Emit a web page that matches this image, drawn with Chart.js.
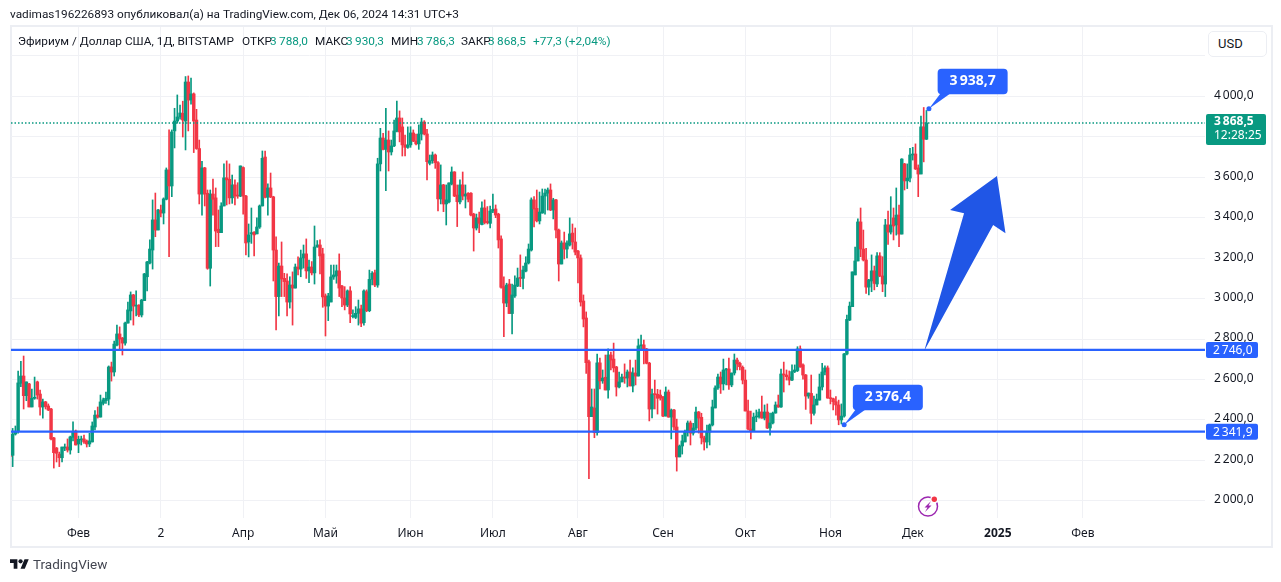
<!DOCTYPE html>
<html lang="ru">
<head>
<meta charset="utf-8">
<title>ETHUSD</title>
<script src="https://cdn.jsdelivr.net/npm/chart.js@4"></script>
<style>
  html, body { margin: 0; padding: 0; background: #fff; }
  body { width: 1281px; height: 582px; overflow: hidden; position: relative; font-family: Roboto, sans-serif; color: #131722; }
  #frame { position: absolute; left: 10px; top: 25px; width: 1259px; height: 519px; border: 2px solid #eceef3; }
  canvas { position: absolute; left: 0; top: 0; }
  .t { position: absolute; white-space: nowrap; font-size: 11.8px; line-height: 16px; }
  .g { color: #089981; }
  #usd { position: absolute; left: 1208px; top: 31px; width: 57px; height: 24px; border: 1.5px solid #eceef3; border-radius: 5px; background: #fff; font-size: 13px; line-height: 24px; text-indent: 9px; }
  #logo { position: absolute; left: 10px; top: 557px; }
</style>
</head>
<body>
<div id="frame"></div>
<canvas id="chart" width="1281" height="582"></canvas>
<div class="t" style="left:10px;top:6px">vadimas196226893 опубликовал(а) на TradingView.com, Дек 06, 2024 14:31 UTC+3</div>
<div class="t" style="left:18px;top:33px">Эфириум / Доллар США, 1Д, BITSTAMP</div>
<div class="t" style="left:242px;top:33px">ОТКР</div><div class="t g" style="left:270px;top:33px">3&#8201;788,0</div>
<div class="t" style="left:315px;top:33px">МАКС</div><div class="t g" style="left:346px;top:33px">3&#8201;930,3</div>
<div class="t" style="left:391px;top:33px">МИН</div><div class="t g" style="left:417px;top:33px">3&#8201;786,3</div>
<div class="t" style="left:461px;top:33px">ЗАКР</div><div class="t g" style="left:488px;top:33px">3&#8201;868,5</div>
<div class="t g" style="left:533px;top:33px">+77,3 (+2,04%)</div>
<div id="usd">USD</div>
<svg id="logo" width="19" height="15" viewBox="0 0 36 28"><path fill="#131722" d="M14 22H7V11H0V4h14v18zM28 22h-8l7.5-18h8L28 22z"/><circle fill="#131722" cx="20" cy="8" r="4"/></svg>
<div class="t" style="left:33px;top:556px;font-size:13.5px;color:#434651">TradingView</div>

<script>
// ETH/USD daily candles, 7 Jan - 6 Dec 2024, one row per month
var opens = [
  2241,2225,2330,2342,2581,2617,2520,2578,2464,2507,2588,2528,2464,2489,2469,2454,2311,2261,2231,2213,2261,2266,2251,2314,2345,
  2281,2301,2306,2296,2281,2291,2365,2424,2414,2482,2495,2503,2662,2637,2770,2825,2805,2780,2879,2939,3018,2963,2967,2919,2990,3108,3176,3240,3389,
  3339,3438,3423,3491,3636,3557,3829,3878,3898,3916,3878,4071,3982,4012,3883,3742,3517,3646,3521,3150,3517,3498,3343,3326,3458,3597,3590,3498,3562,3512,3507,
  3648,3507,3280,3320,3328,3320,3354,3458,3700,3501,3547,3503,3240,3010,3161,3100,3087,2983,3067,3052,3156,3146,3201,3221,3137,3156,3127,3255,3265,3221,
  3013,2963,2983,3107,3112,3137,3062,3003,2968,3038,2911,2907,2927,2949,2881,3034,2940,3095,3128,3067,3666,3794,3738,3784,3725,3755,3827,3893,3849,3760,3748,
  3760,3819,3779,3765,3814,3873,3814,3669,3682,3710,3672,3493,3562,3468,3478,3567,3626,3512,3478,3562,3507,3521,3521,3418,3349,3399,3366,3448,3381,3372,
  3433,3443,3418,3295,3059,2978,3072,2926,3013,3062,3102,3100,3136,3176,3240,3488,3446,3384,3423,3507,3521,3537,3438,3488,3339,3171,3275,3245,3265,3324,3280,
  3235,3201,2988,2904,2688,2416,2459,2337,2682,2593,2611,2548,2721,2701,2662,2563,2588,2611,2607,2637,2568,2632,2617,2766,2771,2751,2681,2454,2528,2527,2523,
  2513,2419,2538,2414,2449,2365,2217,2271,2291,2340,2385,2335,2360,2439,2413,2311,2291,2340,2375,2459,2558,2612,2578,2647,2652,2573,2632,2696,2680,2660,
  2597,2444,2355,2345,2414,2416,2439,2409,2439,2360,2385,2434,2474,2464,2627,2622,2612,2597,2639,2644,2751,2672,2622,2518,2531,2433,2474,2498,2563,2637,2657,
  2508,2505,2490,2474,2400,2419,2726,2894,2960,3117,3186,3379,3245,3191,3057,3087,3137,3072,3211,3112,3072,3364,3329,3399,3364,3413,3319,3666,3582,3596,
  3710,3715,3646,3616,3849,3788
];
var highs = [
  2256,2358,2370,2642,2690,2716,2588,2581,2553,2612,2592,2548,2503,2492,2479,2457,2314,2264,2241,2266,2281,2306,2320,2390,2350,
  2320,2320,2325,2301,2334,2390,2446,2464,2523,2508,2538,2667,2686,2790,2869,2860,2808,2884,2983,3033,3021,3038,2970,2996,3125,3184,3290,3488,3522,
  3441,3463,3498,3646,3834,3834,3941,4007,3957,3976,4098,4101,4091,4017,3936,3784,3679,3649,3537,3537,3591,3547,3438,3474,3666,3681,3666,3611,3587,3573,3656,
  3651,3511,3369,3448,3331,3399,3463,3730,3730,3567,3621,3506,3305,3176,3280,3125,3122,3108,3132,3171,3207,3240,3265,3295,3191,3183,3359,3287,3290,3249,
  3023,3026,3166,3166,3166,3221,3066,3059,3043,3059,2944,2960,2993,2968,3043,3043,3141,3133,3141,3694,3842,3817,3941,3829,3784,3883,3977,3928,3893,3809,3849,
  3850,3834,3814,3859,3892,3880,3837,3710,3725,3715,3677,3661,3565,3562,3572,3651,3628,3562,3587,3626,3562,3524,3524,3422,3418,3428,3478,3488,3455,3458,
  3517,3463,3422,3310,3107,3076,3095,3072,3112,3151,3216,3161,3207,3270,3498,3504,3537,3527,3542,3542,3547,3567,3496,3491,3344,3285,3329,3285,3399,3369,3349,
  3239,3216,3018,2934,2696,2553,2553,2726,2706,2647,2721,2751,2736,2780,2665,2637,2627,2677,2647,2696,2657,2696,2800,2820,2795,2754,2685,2553,2597,2551,2548,
  2517,2563,2548,2454,2452,2404,2276,2325,2350,2395,2395,2383,2464,2442,2433,2320,2375,2380,2498,2568,2627,2637,2701,2655,2706,2632,2726,2706,2686,2667,
  2647,2498,2444,2434,2449,2454,2518,2474,2479,2434,2439,2489,2523,2652,2686,2647,2642,2672,2672,2762,2766,2677,2625,2533,2622,2518,2528,2627,2680,2667,2667,
  2548,2508,2515,2498,2479,2729,2919,2983,3132,3255,3394,3448,3339,3249,3095,3216,3161,3227,3227,3207,3392,3433,3504,3448,3547,3463,3692,3669,3666,3743,
  3748,3765,3661,3903,3945,3930.3
];
var lows = [
  2207,2169,2325,2334,2564,2454,2495,2464,2464,2502,2503,2424,2409,2454,2446,2301,2162,2192,2169,2192,2248,2241,2231,2296,2276,
  2238,2276,2284,2266,2268,2291,2350,2409,2414,2474,2482,2474,2592,2617,2766,2746,2721,2770,2878,2894,2869,2914,2911,2909,2990,3038,3171,3146,3306,
  3339,3404,3369,3488,3207,3504,3745,3867,3887,3799,3735,3829,3962,3722,3738,3468,3413,3458,3145,3062,3413,3257,3257,3326,3458,3463,3468,3471,3463,3496,3504,
  3418,3216,3206,3273,3211,3320,3347,3458,3498,3413,3499,3087,2845,2914,3010,3010,2914,2953,2869,3052,3117,3108,3151,3100,3079,3117,3072,3254,3122,2957,
  2815,2891,2983,3095,3076,3010,2960,2944,2960,2881,2904,2901,2869,2861,2868,2935,2935,3067,3059,3056,3631,3735,3534,3631,3710,3751,3824,3775,3705,3705,3743,
  3748,3776,3760,3738,3784,3809,3587,3661,3669,3644,3433,3468,3430,3364,3473,3562,3504,3356,3468,3488,3448,3478,3409,3235,3339,3326,3364,3369,3369,3349,
  3425,3400,3250,3051,2812,2960,2926,2825,3006,3059,3059,3048,3132,3171,3235,3354,3379,3369,3422,3418,3438,3435,3394,3300,3087,3171,3196,3201,3260,3245,3216,
  3077,2963,2860,2630,2110,2416,2312,2325,2553,2581,2548,2508,2647,2637,2518,2558,2588,2581,2563,2568,2538,2573,2617,2746,2677,2677,2395,2410,2454,2429,2498,
  2416,2419,2413,2306,2350,2147,2217,2231,2291,2320,2276,2325,2350,2335,2281,2251,2261,2276,2370,2459,2551,2531,2548,2573,2551,2564,2622,2647,2647,2578,
  2444,2350,2306,2345,2391,2409,2408,2400,2357,2325,2380,2433,2462,2462,2538,2597,2573,2594,2634,2639,2660,2601,2452,2507,2380,2424,2474,2498,2548,2622,2507,
  2479,2449,2424,2376,2380,2413,2721,2891,2960,3117,3186,3207,3186,3026,3018,3034,3043,3059,3108,3034,3010,3268,3319,3290,3314,3257,3319,3537,3544,3577,
  3685,3638,3504,3616,3676,3786.3
];
var closes = [
  2218,2330,2342,2583,2617,2520,2588,2464,2507,2512,2523,2464,2489,2466,2449,2306,2238,2235,2213,2266,2266,2251,2316,2342,2276,
  2304,2306,2291,2281,2296,2370,2424,2414,2489,2499,2507,2662,2637,2775,2825,2800,2780,2879,2944,3018,2963,2967,2919,2993,3122,3181,3245,3389,3339,
  3438,3423,3493,3636,3557,3824,3878,3898,3918,3883,4071,3982,4012,3878,3742,3517,3646,3517,3150,3517,3491,3334,3326,3458,3597,3587,3498,3562,3507,3507,3656,
  3507,3275,3315,3326,3315,3354,3458,3694,3501,3547,3503,3240,3010,3161,3097,3084,2983,3067,3052,3156,3146,3201,3221,3137,3156,3127,3255,3265,3211,3008,
  2963,3013,3107,3117,3137,3052,3003,2968,3038,2924,2914,2927,2949,2878,3038,2940,3095,3125,3067,3666,3794,3738,3784,3725,3755,3829,3893,3824,3760,3748,3760,
  3819,3779,3765,3814,3873,3814,3677,3682,3710,3672,3493,3562,3468,3488,3572,3626,3507,3479,3562,3507,3517,3491,3413,3349,3399,3372,3448,3376,3376,3433,
  3441,3413,3290,3056,2978,3067,2926,3018,3067,3102,3100,3141,3176,3245,3488,3443,3384,3428,3507,3522,3537,3438,3488,3339,3171,3275,3245,3275,3320,3280,3230,
  3201,2983,2899,2683,2416,2464,2337,2682,2593,2607,2548,2721,2696,2657,2563,2588,2612,2607,2637,2568,2632,2617,2766,2771,2751,2680,2454,2528,2525,2507,2508,
  2419,2538,2414,2449,2365,2217,2271,2296,2340,2385,2335,2360,2439,2409,2311,2291,2340,2375,2464,2558,2612,2578,2647,2652,2573,2632,2696,2677,2663,2597,
  2444,2355,2345,2414,2419,2439,2409,2439,2360,2385,2434,2474,2464,2627,2622,2614,2597,2639,2647,2751,2662,2622,2518,2533,2433,2474,2503,2563,2637,2657,2508,
  2505,2490,2474,2400,2419,2726,2897,2963,3132,3186,3379,3245,3191,3057,3092,3137,3075,3211,3112,3072,3364,3329,3364,3359,3413,3319,3690,3582,3596,3710,
  3715,3641,3616,3849,3788,3868.5
];

// x axis: days counted from 7 Jan 2024
var tickDays = [25, 55, 85, 115, 146, 176, 207, 238, 268, 299, 329, 360, 391];
var tickLabels = ['Фев', '2', 'Апр', 'Май', 'Июн', 'Июл', 'Авг', 'Сен', 'Окт', 'Ноя', 'Дек', '2025', 'Фев'];
var priceTicks = [2000, 2200, 2400, 2600, 2800, 3000, 3200, 3400, 3600, 3800, 4000, 4200];

var levels = [2746.0, 2341.9];
var lastPrice = 3868.5;
var lastTime = '12:28:25';
var callouts = [[334.9, 3938.7], [304, 2376.4]];
var arrowDays = [333.2, 347.7, 342.6, 359.7, 362.8, 358.3];
var arrowPrices = [2742, 3422, 3438, 3606, 3323, 3364];

var UP = '#089981', DOWN = '#f23645', BLUE = '#2962ff', GRID = '#f0f1f5';
var FONT = '"Noto Sans", sans-serif';
var xMin = 0.4, xMax = 435.5;

function fmt(v) {
  var s = v.toFixed(1).replace('.', ',');
  return s.length > 5 ? s.slice(0, 1) + '\u2009' + s.slice(1) : s;
}

var wicks = [], bodies = [], colors = [];
opens.forEach(function (o, i) {
  wicks.push({ x: i, y: [lows[i], highs[i]] });
  bodies.push({ x: i, y: [o, closes[i]] });
  colors.push(closes[i] >= o ? UP : DOWN);
});

function hLine(y, color, width, dash) {
  return {
    type: 'line',
    data: [{ x: xMin, y: y }, { x: xMax, y: y }],
    borderColor: color,
    borderWidth: width,
    borderDash: dash,
    pointRadius: 0,
    order: 0
  };
}

// callouts, the big arrow, price tags and the event icon
var overlay = {
  id: 'overlay',
  afterDatasetsDraw: function (chart) {
    var c = chart.ctx, xs = chart.scales.x, ys = chart.scales.y;
    c.save();

    c.fillStyle = '#2056e6';
    c.beginPath();
    arrowDays.forEach(function (d, i) {
      c.lineTo(xs.getPixelForValue(d), ys.getPixelForValue(arrowPrices[i]));
    });
    c.closePath();
    c.fill();

    callouts.forEach(function (p) {
      var ax = xs.getPixelForValue(p[0]), ay = ys.getPixelForValue(p[1]);
      var bx = ax + 8.7, by = ay - 40, bw = 70, bh = 25.5;
      c.fillStyle = BLUE;
      c.beginPath();
      c.roundRect(bx, by, bw, bh, 4);
      c.fill();
      c.beginPath();
      c.moveTo(ax, ay);
      c.lineTo(bx + 3, by + bh - 1);
      c.lineTo(bx + 13, by + bh - 1);
      c.closePath();
      c.fill();
      c.beginPath();
      c.arc(ax, ay, 2.5, 0, Math.PI * 2);
      c.fill();
      c.fillStyle = '#fff';
      c.font = 'bold 14px ' + FONT;
      c.textAlign = 'center';
      c.textBaseline = 'middle';
      c.fillText(fmt(p[1]), bx + bw / 2, by + bh / 2);
    });

    c.textAlign = 'left';
    levels.forEach(function (v) {
      var y = ys.getPixelForValue(v);
      c.fillStyle = BLUE;
      c.beginPath();
      c.roundRect(1206, y - 8, 52, 16, 2);
      c.fill();
      c.fillStyle = '#fff';
      c.font = '12px ' + FONT;
      c.fillText(fmt(v), 1213, y + 0.5);
    });

    var ly = ys.getPixelForValue(lastPrice);
    c.fillStyle = UP;
    c.beginPath();
    c.roundRect(1206, ly - 9, 60, 31, 2);
    c.fill();
    c.fillStyle = '#fff';
    c.font = 'bold 12px ' + FONT;
    c.fillText(fmt(lastPrice), 1214, ly - 1);
    c.font = '12px ' + FONT;
    c.fillText(lastTime, 1214, ly + 13);

    // event marker
    c.strokeStyle = '#9c27b0';
    c.lineWidth = 1.5;
    c.beginPath();
    c.arc(928, 506.5, 9.5, 0, Math.PI * 2);
    c.stroke();
    c.fillStyle = '#9c27b0';
    c.beginPath();
    c.moveTo(931, 501);
    c.lineTo(924.5, 507.5);
    c.lineTo(927.5, 507.5);
    c.lineTo(925, 512);
    c.lineTo(931.5, 505.5);
    c.lineTo(928.5, 505.5);
    c.closePath();
    c.fill();
    c.fillStyle = '#fff';
    c.beginPath();
    c.arc(934.3, 499.3, 4, 0, Math.PI * 2);
    c.fill();
    c.fillStyle = DOWN;
    c.beginPath();
    c.arc(934.3, 499.3, 2.7, 0, Math.PI * 2);
    c.fill();
    c.restore();
  }
};

new Chart(document.getElementById('chart'), {
  type: 'bar',
  data: {
    datasets: [
      hLine(levels[0], BLUE, 2.2),
      hLine(levels[1], BLUE, 2.2),
      hLine(lastPrice, UP, 1.5, [1.5, 2]),
      { data: bodies, backgroundColor: colors, barThickness: 2.8, minBarLength: 1, grouped: false, order: 1 },
      { data: wicks, backgroundColor: colors, barThickness: 1, grouped: false, order: 2 }
    ]
  },
  options: {
    responsive: false,
    animation: false,
    events: [],
    layout: { padding: { left: 11, top: 27, right: 11, bottom: 36 } },
    plugins: { legend: { display: false }, tooltip: { enabled: false } },
    scales: {
      x: {
        type: 'linear',
        min: xMin,
        max: xMax,
        offset: false,
        afterFit: function (axis) { axis.height = 28; },
        afterBuildTicks: function (axis) {
          axis.ticks = tickDays.map(function (d) { return { value: d }; });
        },
        grid: { color: GRID, offset: false, drawTicks: false },
        border: { display: false },
        ticks: {
          autoSkip: false,
          maxRotation: 0,
          padding: 8,
          color: '#131722',
          font: function (ctx) {
            return { family: FONT, size: 12, weight: ctx.tick && ctx.tick.value === 360 ? 'bold' : 'normal' };
          },
          callback: function (v) { return tickLabels[tickDays.indexOf(v)]; }
        }
      },
      y: {
        position: 'right',
        min: 1915,
        max: 4343,
        afterFit: function (axis) { axis.width = 65; },
        afterBuildTicks: function (axis) {
          axis.ticks = priceTicks.map(function (v) { return { value: v }; });
        },
        grid: { color: GRID, drawTicks: false },
        border: { display: false },
        ticks: {
          padding: 9,
          labelOffset: -1,
          color: '#131722',
          font: { family: FONT, size: 12 },
          callback: function (v) { return v === 4200 ? '' : fmt(v); }
        }
      }
    }
  },
  plugins: [overlay]
});
</script>
</body>
</html>
